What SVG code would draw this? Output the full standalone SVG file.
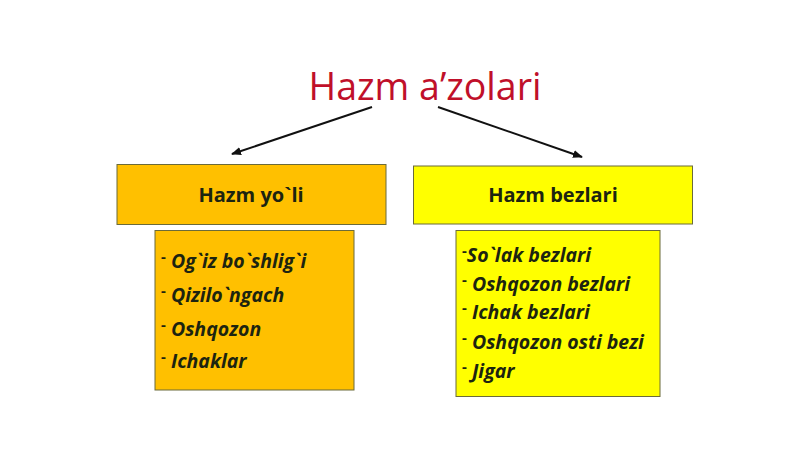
<svg xmlns="http://www.w3.org/2000/svg" width="800" height="449" viewBox="0 0 800 449">
<defs>
<marker id="ah" viewBox="0 0 10 10" refX="9" refY="5" markerWidth="5" markerHeight="5" orient="auto" markerUnits="strokeWidth">
<path d="M0,1 L10,5 L0,9 Z" fill="#111"/>
</marker>
<style>
.title{font-family:"Open Sans","Liberation Sans",sans-serif;font-size:37.5px;fill:#C0102A;text-anchor:middle}
.head{font-family:"Open Sans","Liberation Sans",sans-serif;font-size:20px;font-weight:bold;fill:#1c2410;text-anchor:middle}
.item{font-family:"Open Sans","Liberation Sans",sans-serif;font-size:19.5px;font-weight:bold;font-style:italic;fill:#1c2410}
.dash{font-size:15px;font-style:normal;font-weight:bold}
.box{stroke:#6b6b3a;stroke-width:1}
.conn{stroke:#111;stroke-width:2;fill:none}
</style>
</defs>
<rect width="800" height="449" fill="#ffffff"/>
<g id="title"><text class="title" x="425" y="100">Hazm a’zolari</text></g>
<g id="connectors">
<line class="conn" x1="372" y1="107" x2="232" y2="154" marker-end="url(#ah)"/>
<line class="conn" x1="438" y1="107" x2="582" y2="157" marker-end="url(#ah)"/>
</g>
<g id="hazm-yoli">
<rect class="box" x="117" y="164.5" width="269" height="60" fill="#FFC000"/>
<text class="head" x="251" y="202">Hazm yo`li</text>
</g>
<g id="hazm-bezlari">
<rect class="box" x="413.5" y="166" width="279" height="58" fill="#FFFF00"/>
<text class="head" x="553" y="202">Hazm bezlari</text>
</g>
<g id="yoli-list">
<rect class="box" x="155" y="230.5" width="199" height="159.5" fill="#FFC000"/>
<text class="item" x="161" y="268"><tspan class="dash" dy="-6">-</tspan><tspan dy="6"> Og`iz bo`shlig`i</tspan></text>
<text class="item" x="161" y="302"><tspan class="dash" dy="-6">-</tspan><tspan dy="6"> Qizilo`ngach</tspan></text>
<text class="item" x="161" y="336"><tspan class="dash" dy="-6">-</tspan><tspan dy="6"> Oshqozon</tspan></text>
<text class="item" x="161" y="368"><tspan class="dash" dy="-6">-</tspan><tspan dy="6"> Ichaklar</tspan></text>
</g>
<g id="bezlar-list">
<rect class="box" x="456" y="230.5" width="204" height="166" fill="#FFFF00"/>
<text class="item" x="462" y="262"><tspan class="dash" dy="-6">-</tspan><tspan dy="6">So`lak bezlari</tspan></text>
<text class="item" x="462" y="291"><tspan class="dash" dy="-6">-</tspan><tspan dy="6"> Oshqozon bezlari</tspan></text>
<text class="item" x="462" y="319"><tspan class="dash" dy="-6">-</tspan><tspan dy="6"> Ichak bezlari</tspan></text>
<text class="item" x="462" y="349"><tspan class="dash" dy="-6">-</tspan><tspan dy="6"> Oshqozon osti bezi</tspan></text>
<text class="item" x="462" y="378"><tspan class="dash" dy="-6">-</tspan><tspan dy="6"> Jigar</tspan></text>
</g>
</svg>
